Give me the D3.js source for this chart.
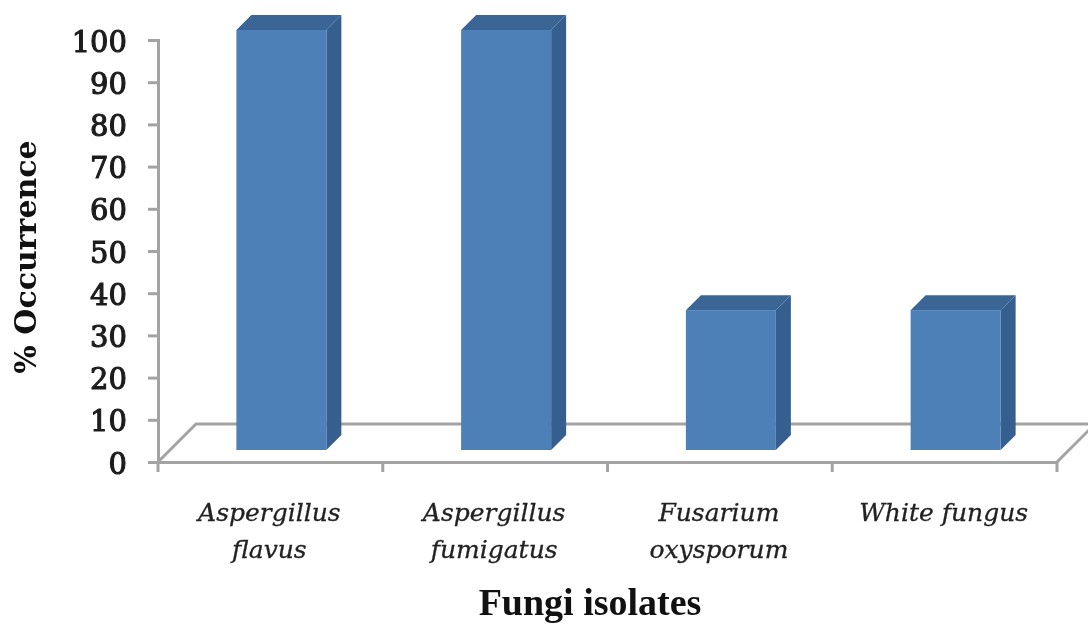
<!DOCTYPE html>
<html>
<head>
<meta charset="utf-8">
<script src="https://cdn.jsdelivr.net/npm/d3@7"></script>
<style>
  html, body { margin: 0; padding: 0; background: #fff; }
  svg { display: block; filter: blur(0.5px); }
  .axis path, .axis line { stroke: #a3a3a3; stroke-width: 3px; }
  .y-axis text { font: 29px "DejaVu Serif", serif; fill: #1c1c1c; stroke: #1c1c1c; stroke-width: 1.1px; }
  .x-label { font: italic 25px "DejaVu Serif", serif; fill: #222; stroke: #222; stroke-width: 0.3px; }
</style>
</head>
<body>
<svg id="chart" width="1088" height="624"></svg>
<script>
var categories = ["Aspergillus flavus", "Aspergillus fumigatus", "Fusarium oxysporum", "White fungus"];
var occurrence = [100, 100, 33.3, 33.3];
var yTicks = [0, 10, 20, 30, 40, 50, 60, 70, 80, 90, 100];

var margin = {top: 40, left: 158},
    width = 899,
    height = 422,
    floorDepth = 38,
    barWidth = 90,
    barDepth = 15,
    barShift = 12;

var svg = d3.select("#chart");
var g = svg.append("g").attr("transform", "translate(" + margin.left + "," + margin.top + ")");

var xScale = d3.scaleBand().domain(categories).range([0, width]);
var yScale = d3.scaleLinear().domain([0, 100]).range([height, 0]);
// bars stand slightly inside the plot box, so their scale is a touch shorter
var barScale = d3.scaleLinear().domain([0, 100]).range([height, 2]);

// floor of the 3d plot, back edge runs off the page
var grey = "#a3a3a3";
g.append("path")
  .attr("d", "M0," + height + "L" + floorDepth + "," + (height - floorDepth) + "H" + (width + floorDepth))
  .attr("fill", "none").attr("stroke", grey).attr("stroke-width", 3);
g.append("line")
  .attr("x1", width).attr("y1", height)
  .attr("x2", width + floorDepth).attr("y2", height - floorDepth)
  .attr("stroke", grey).attr("stroke-width", 3);

var yAxis = d3.axisLeft(yScale).tickValues(yTicks).tickSize(10).tickPadding(21).tickFormat(d3.format("d"));
g.append("g").attr("class", "axis y-axis").call(yAxis);
g.selectAll(".y-axis text").attr("dy", "0.38em");

var xAxis = d3.axisBottom(xScale).tickValues([]).tickSize(0);
g.append("g").attr("class", "axis x-axis")
  .attr("transform", "translate(0," + height + ")").call(xAxis);
// ticks sit between the bands
g.selectAll(".x-tick").data(d3.range(categories.length + 1)).join("line")
  .attr("class", "x-tick")
  .attr("x1", function(d) { return d * xScale.step(); })
  .attr("x2", function(d) { return d * xScale.step(); })
  .attr("y1", height).attr("y2", height + 10)
  .attr("stroke", grey).attr("stroke-width", 3);

var bars = g.selectAll(".bar").data(categories).join("g").attr("class", "bar")
  .attr("transform", function(d) {
    return "translate(" + (xScale(d) + xScale.bandwidth() / 2 + barShift - 1 - barWidth / 2) + "," + (-barShift) + ")";
  });

bars.append("path") // side
  .attr("fill", "#355f8f")
  .attr("d", function(d, i) {
    var top = barScale(occurrence[i]);
    return "M" + barWidth + "," + top + "l" + barDepth + "," + (-barDepth) +
      "V" + (height - barDepth) + "l" + (-barDepth) + "," + barDepth + "Z";
  });
bars.append("path") // top
  .attr("fill", "#3b6595")
  .attr("d", function(d, i) {
    var top = barScale(occurrence[i]);
    return "M0," + top + "l" + barDepth + "," + (-barDepth) + "h" + barWidth + "l" + (-barDepth) + "," + barDepth + "Z";
  });
bars.append("rect") // front
  .attr("fill", "#4e80b8")
  .attr("x", 0).attr("width", barWidth)
  .attr("y", function(d, i) { return barScale(occurrence[i]); })
  .attr("height", function(d, i) { return height - barScale(occurrence[i]); });

// category labels, two lines like the original
g.selectAll(".x-label").data(categories).join("text")
  .attr("class", "x-label")
  .attr("text-anchor", "middle")
  .attr("y", 59)
  .attr("transform", function(d) {
    return "translate(" + (xScale(d) + xScale.bandwidth() / 2 - 1) + "," + height + ")";
  })
  .each(function(d) {
    var words = d === "White fungus" ? [d] : d.split(" ");
    d3.select(this).selectAll("tspan").data(words).join("tspan")
      .attr("x", 0)
      .attr("dy", function(w, i) { return i ? 37 : 0; })
      .text(function(w) { return w; });
  });

svg.append("text")
  .attr("x", 590).attr("y", 615)
  .attr("text-anchor", "middle")
  .style("font", "bold 38px 'Liberation Serif', serif")
  .attr("fill", "#111")
  .text("Fungi isolates");

svg.append("text")
  .attr("transform", "translate(36,257) rotate(-90)")
  .attr("text-anchor", "middle")
  .style("font", "bold 30px 'DejaVu Serif', serif")
  .attr("fill", "#111")
  .text("% Occurrence");
</script>
</body>
</html>
